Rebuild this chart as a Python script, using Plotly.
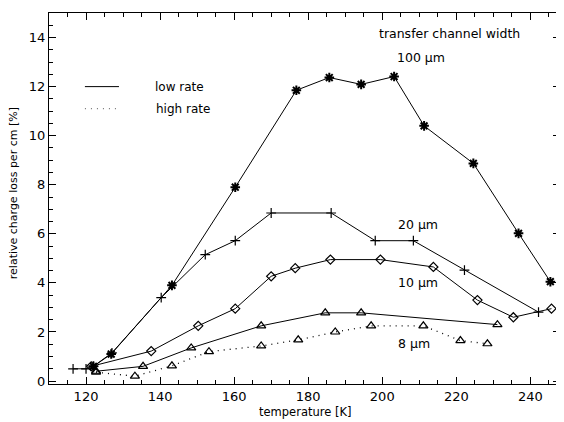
import plotly.graph_objects as go

# 100 um channel (low rate)
t100 = [122, 126.8, 143.2, 160.3, 176.8, 185.7, 194.3, 203.2, 211.3, 224.6, 236.8, 245.4]
v100 = [0.6, 1.1, 3.9, 7.9, 11.85, 12.37, 12.09, 12.41, 10.4, 8.87, 6.02, 4.05]

# 20 um channel (low rate)
t20 = [116.5, 120, 122, 127, 140.3, 152.2, 160.3, 170, 186.2, 198.1, 208.4, 222.2, 242.2]
v20 = [0.5, 0.5, 0.6, 1.15, 3.4, 5.15, 5.72, 6.85, 6.85, 5.72, 5.72, 4.52, 2.81]

# 10 um channel (low rate)
t10 = [121.4, 137.6, 150.3, 160.3, 170, 176.5, 186, 199.5, 213.8, 225.7, 235.4, 245.7]
v10 = [0.6, 1.22, 2.25, 2.95, 4.27, 4.6, 4.95, 4.95, 4.65, 3.3, 2.6, 2.95]

# 8 um channel, low rate
t8lo = [122.7, 135.4, 148.4, 167.3, 184.6, 194.3, 231.1]
v8lo = [0.4, 0.6, 1.35, 2.25, 2.78, 2.78, 2.3]

# 8 um channel, high rate
t8hi = [122.7, 133.2, 143.2, 153.2, 167.3, 177.3, 187.3, 197.0, 211.1, 221.1, 228.4]
v8hi = [0.36, 0.2, 0.62, 1.2, 1.43, 1.68, 2.0, 2.25, 2.25, 1.65, 1.52]

labels = ["transfer channel width", "100 \u03bcm", "20 \u03bcm", "10 \u03bcm", "8 \u03bcm"]
label_x = [218.1, 210.5, 209.7, 209.7, 208.6]
label_y = [14.16, 13.19, 6.39, 4.03, 1.55]

xticks = [120, 140, 160, 180, 200, 220, 240]
yticks = [0, 2, 4, 6, 8, 10, 12, 14]

FONT = "DejaVu Sans"
fig = go.Figure()

def add(x, y, sym, size, dash="solid", lw=1.0, mlw=1.2):
    fig.add_trace(go.Scatter(
        x=x, y=y, mode="lines+markers",
        line=dict(color="black", width=lw, dash=dash),
        marker=dict(symbol=sym, size=size, color="black",
                    line=dict(color="black", width=mlw)),
        showlegend=False, cliponaxis=False))

add(t100, v100, "asterisk-open", 8, mlw=2)
add(t20, v20, "cross-thin-open", 7)
add(t10, v10, "diamond-open", 7)
add(t8lo, v8lo, "triangle-up-open", 8)
add(t8hi, v8hi, "triangle-up-open", 8, dash="1px,5px", lw=1.3)

for txt, x, y in zip(labels, label_x, label_y):
    fig.add_annotation(x=x, y=y, text=txt, showarrow=False,
                       font=dict(family=FONT, size=12.5, color="black"))

# legend samples
fig.add_shape(type="line", x0=119.7, x1=128.9, y0=12.0, y1=12.0,
              line=dict(color="black", width=1))
fig.add_shape(type="line", x0=119.7, x1=128.9, y0=11.1, y1=11.1,
              line=dict(color="#777777", width=1.2, dash="1px,5px"))
fig.add_annotation(x=138.0, y=12.0, text="low rate", showarrow=False, xanchor="left",
                   font=dict(family=FONT, size=12, color="black"))
fig.add_annotation(x=138.4, y=11.1, text="high rate", showarrow=False, xanchor="left",
                   font=dict(family=FONT, size=12, color="black"))

# axis titles
fig.add_annotation(xref="paper", yref="paper", x=0.5, y=-0.0755, yanchor="middle",
                   text="temperature [K]", showarrow=False,
                   font=dict(family=FONT, size=11.5, color="black"))
fig.add_annotation(xref="paper", yref="paper", x=-0.068, y=0.515, textangle=-90,
                   xanchor="center", yanchor="middle",
                   text="relative charge loss per cm [%]", showarrow=False,
                   font=dict(family=FONT, size=11, color="black"))

axis_common = dict(showgrid=False, zeroline=False, showline=True, linecolor="black",
                   linewidth=1, mirror="ticks", ticks="inside", tickcolor="black",
                   ticklen=7, tickwidth=1, automargin=False,
                   tickfont=dict(family=FONT, size=13, color="black"))
fig.update_xaxes(range=[110, 248], tickvals=xticks,
                 minor=dict(dtick=5, tick0=110, ticks="inside", ticklen=4, tickcolor="black"),
                 **axis_common)
fig.update_yaxes(range=[-0.12, 15], tickvals=yticks,
                 minor=dict(dtick=0.5, tick0=0, ticks="inside", ticklen=4, tickcolor="black"),
                 **axis_common)

# the page body adds an 8px offset, so the figure is sized to fit inside the window
fig.update_layout(width=556, height=414, paper_bgcolor="white", plot_bgcolor="white",
                  margin=dict(l=41, r=4, t=5, b=38, autoexpand=False),
                  font=dict(family=FONT, color="black"))
fig.write_html("out.html")
